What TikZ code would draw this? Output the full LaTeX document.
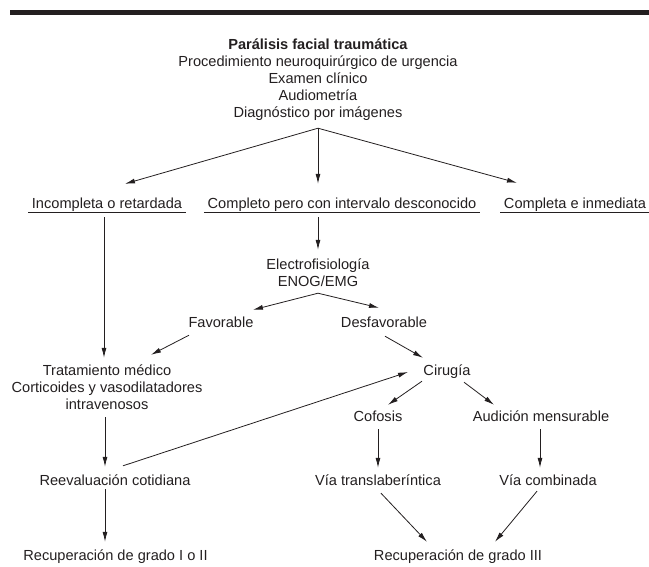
\documentclass[tikz,border=0pt]{standalone}
\usepackage{fontspec}
\setmainfont{Liberation Sans}
\usetikzlibrary{arrows.meta}
\definecolor{tinta}{HTML}{231F20}
\tikzset{
  texto/.style={font=\fontsize{14.6}{17}\selectfont, text=tinta, inner sep=0pt, anchor=base, text height=10.5pt, text depth=3pt},
  bloque/.style={texto, align=center},
  flecha/.style={tinta, line width=0.8pt, -{Latex[length=10pt,width=5pt]}},
  linea/.style={tinta, line width=0.8pt}
}
\begin{document}
\begin{tikzpicture}[x=1pt, y=-1pt]
\useasboundingbox (0,0) rectangle (649,566);
\fill[tinta] (10,9.5) rectangle (649,15);

\node[bloque, text height=78.5pt] (titulo) at (318,117) {\textbf{Parálisis facial traumática}\\Procedimiento neuroquirúrgico de urgencia\\Examen clínico\\Audiometría\\Diagnóstico por imágenes};
\node[texto] (incompleta) at (107,208) {Incompleta o retardada};
\node[texto] (completo) at (342,208) {Completo pero con intervalo desconocido};
\node[texto] (completa) at (575,208) {Completa e inmediata};
\node[bloque, text height=27.5pt] (electro) at (318,286) {Electrofisiología\\ENOG/EMG};
\node[texto] (favorable) at (221,327) {Favorable};
\node[texto] (desfavorable) at (384,327) {Desfavorable};
\node[bloque, text height=44.5pt] (tratamiento) at (107,409) {Tratamiento médico\\Corticoides y vasodilatadores\\intravenosos};
\node[texto] (cirugia) at (447,375) {Cirugía};
\node[texto] (cofosis) at (378,421) {Cofosis};
\node[texto] (audicion) at (541,421) {Audición mensurable};
\node[texto] (reevaluacion) at (115,485) {Reevaluación cotidiana};
\node[texto] (viatrans) at (378,485) {Vía translaberíntica};
\node[texto] (viacomb) at (548,485) {Vía combinada};
\node[texto] (recupI) at (115.5,560) {Recuperación de grado I o II};
\node[texto] (recupIII) at (458,560) {Recuperación de grado III};

\foreach \n in {incompleta,completo,completa}
  \draw[linea] ([shift={(-3.5,4)}]\n.base west) -- ([shift={(3.5,4)}]\n.base east);

\draw[flecha] ([shift={(0,8)}]titulo.south) -- ([shift={(18,-13.5)}]incompleta.north);
\draw[flecha] ([shift={(0,8)}]titulo.south) -- ([shift={(-24,-13.5)}]completo.north);
\draw[flecha] ([shift={(0,8)}]titulo.south) -- ([shift={(-58,-14.5)}]completa.north);
\draw[flecha] ([shift={(-3,6)}]incompleta.south) -- ([shift={(-3,-6.5)}]tratamiento.north);
\draw[flecha] ([shift={(-24,6)}]completo.south) -- ([shift={(0,-8.5)}]electro.north);
\draw[flecha] ([shift={(0,4)}]electro.south) -- ([shift={(32,-6.5)}]favorable.north);
\draw[flecha] ([shift={(0,4)}]electro.south) -- ([shift={(-5,-8.5)}]desfavorable.north);
\draw[flecha] ([shift={(-32,5)}]favorable.south) -- ([shift={(44,-9.5)}]tratamiento.north);
\draw[flecha] ([shift={(1,6)}]desfavorable.south) -- ([shift={(-24,-6.5)}]cirugia.north);
\draw[flecha] ([shift={(-2,5)}]tratamiento.south) -- ([shift={(-10,-7.5)}]reevaluacion.north);
\draw[flecha] ([shift={(8,-8.5)}]reevaluacion.north) -- ([shift={(-39,-3)}]cirugia.base);
\draw[flecha] ([shift={(-25,3)}]cirugia.south) -- ([shift={(10,-5.5)}]cofosis.north);
\draw[flecha] ([shift={(17,4)}]cirugia.south) -- ([shift={(-47,-5.5)}]audicion.north);
\draw[flecha] ([shift={(-10,1)}]reevaluacion.south) -- ([shift={(-10.5,-7.5)}]recupI.north);
\draw[flecha] ([shift={(0,5)}]cofosis.south) -- ([shift={(0,-6.5)}]viatrans.north);
\draw[flecha] ([shift={(-1,5)}]audicion.south) -- ([shift={(-8,-6.5)}]viacomb.north);
\draw[flecha] ([shift={(3,5)}]viatrans.south) -- ([shift={(-31,-7.5)}]recupIII.north);
\draw[flecha] ([shift={(-11,3)}]viacomb.south) -- ([shift={(37,-7.5)}]recupIII.north);
\end{tikzpicture}
\end{document}
